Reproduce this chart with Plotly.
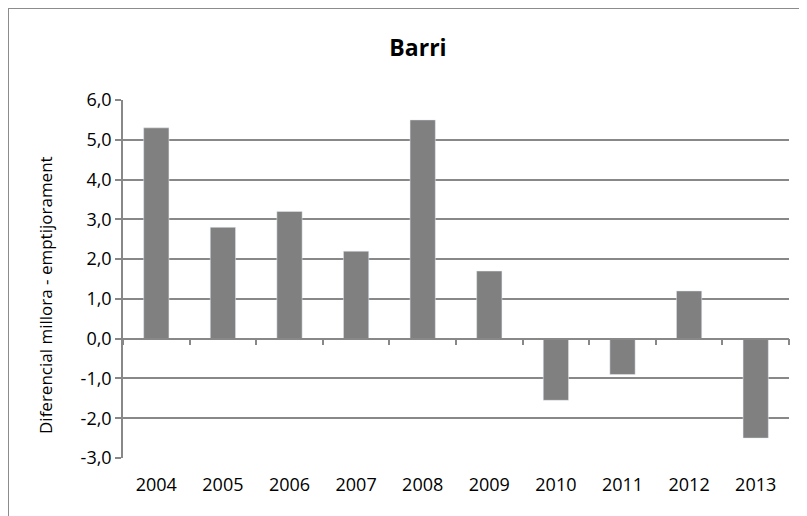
import plotly.graph_objects as go

years = ["2004", "2005", "2006", "2007", "2008", "2009", "2010", "2011", "2012", "2013"]
diferencial = [5.3, 2.8, 3.2, 2.2, 5.5, 1.7, -1.55, -0.9, 1.2, -2.5]
y_ticks = [6, 5, 4, 3, 2, 1, 0, -1, -2, -3]
y_labels = ["6,0", "5,0", "4,0", "3,0", "2,0", "1,0", "0,0", "-1,0", "-2,0", "-3,0"]

FONT = "Open Sans"
GRID = "#888888"

# la pàgina té 8px de marge al body: ho compensem als marges
L, T, PW, PH = 115, 92, 666, 358

fig = go.Figure()

# barres visibles
fig.add_trace(go.Bar(
    x=years, y=diferencial,
    marker=dict(color="#808080", line=dict(width=0)),
    xaxis="x", yaxis="y",
))

# traça invisible per dibuixar l'eix a y=0 amb marques
fig.add_trace(go.Bar(
    x=years, y=diferencial,
    marker=dict(color="rgba(0,0,0,0)"),
    hoverinfo="skip",
    xaxis="x2", yaxis="y",
))

fig.update_layout(
    width=807, height=516,
    margin=dict(l=L, r=807 - L - PW, t=T, b=516 - T - PH, autoexpand=False),
    paper_bgcolor="white", plot_bgcolor="white",
    showlegend=False,
    bargap=0.62,
    title=dict(text="<b>Barri</b>", x=410 / 807, xanchor="center", y=1 - 40 / 516, yanchor="middle",
               font=dict(family=FONT, size=23, color="black")),
    xaxis=dict(
        type="category", showgrid=False, showline=False,
        ticks="outside", ticklen=10, tickcolor="rgba(0,0,0,0)",
        tickfont=dict(family=FONT, size=18, color="black"),
    ),
    xaxis2=dict(
        type="category", overlaying="x", matches="x", anchor="free", position=1/3,
        showgrid=False, showline=True, linecolor=GRID, linewidth=1.5,
        ticks="outside", tickson="boundaries", ticklen=6, tickcolor=GRID, tickwidth=1.5,
        showticklabels=False,
    ),
    yaxis=dict(
        range=[-3, 6], tickvals=y_ticks, ticktext=y_labels,
        showgrid=True, gridcolor=GRID, gridwidth=1.5,
        zeroline=False,
        showline=True, linecolor=GRID, linewidth=1.5,
        ticks="outside", ticklen=6, tickcolor=GRID, tickwidth=1.5,
        tickfont=dict(family=FONT, size=18, color="black"),
    ),
    annotations=[
        dict(text="Diferencial millora - emptijorament", textangle=-90,
             xref="paper", yref="paper",
             x=(37 - L) / PW, y=(T + PH - 287) / PH,
             xanchor="center", yanchor="middle", showarrow=False,
             font=dict(family=FONT, size=17, color="black")),
    ],
    shapes=[
        dict(type="line", xref="paper", yref="paper",
             x0=(0 - L) / PW, x1=(807 - L) / PW + 0.05,
             y0=(T + PH - 0) / PH, y1=(T + PH - 0) / PH,
             line=dict(color="#8c8c8c", width=2)),
        dict(type="line", xref="paper", yref="paper",
             x0=(0 - L) / PW, x1=(0 - L) / PW,
             y0=(T + PH - 0) / PH, y1=(T + PH - 520) / PH,
             line=dict(color="#8c8c8c", width=2)),
    ],
)

fig.write_html("out.html")
